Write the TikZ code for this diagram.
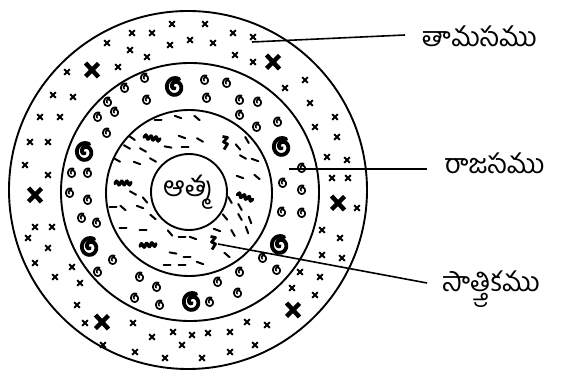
\documentclass[tikz,border=0pt]{standalone}
\usepackage{fontspec}
\newfontfamily\telugu[Script=Telugu]{Hind Guntur}
\usetikzlibrary{positioning}

\begin{document}
\begin{tikzpicture}[x=1pt, y=-1pt,
    ring/.style={draw, line width=1.9pt},
    lead/.style={line width=1.6pt},
    lbl/.style={font=\telugu\fontsize{27}{32}\selectfont, inner sep=0pt},
    smallx/.pic={\draw[line width=2pt] (-2.8,-2.8) -- (2.8,2.8) (-2.8,2.8) -- (2.8,-2.8);},
    bigx/.pic={\draw[line width=4.5pt] (-6.5,-7) -- (6.5,7) (-6.5,6.5) -- (6.5,-6.5);},
    smallg/.pic={\draw[line width=1.7pt] plot[smooth, domain=60:600, samples=30]
        ({4.2*(1-0.9*((\x-60)/540)^2)*cos(\x)}, {-4.6*(1-0.9*((\x-60)/540)^2)*sin(\x)});},
    bigg/.pic={\draw[line width=3.8pt, line cap=round] plot[smooth, domain=60:620, samples=40]
        ({8.5*(1-0.9*((\x-60)/560)^2)*cos(\x)}, {-9*(1-0.9*((\x-60)/560)^2)*sin(\x)});},
    dashmark/.pic={\draw[line width=2pt, line cap=round] (-3.5,0) -- (3.5,0);},
    squiggle/.pic={\draw[line width=3.2pt, line cap=round] plot[smooth, domain=-8:8, samples=33] (\x, {1.8*sin(\x*70)});},
    zmark/.pic={\draw[line width=2.8pt, line join=round] (-2.5,-6.5) -- (2.5,-5.5) -- (-1.5,-1) -- (2.5,1) -- (-1,6.5);}
]
    \useasboundingbox (0,0) rectangle (564,374);

    % Rings
    \draw[ring] (188,190) circle[radius=179];
    \draw[ring] (190,192) circle[radius=129];
    \draw[ring] (189,193) circle[radius=83];
    \node[circle, draw, line width=1.9pt, minimum size=76pt, inner sep=0pt,
          font=\telugu\fontsize{28}{32}\selectfont] (atma) at (189,192) {ఆత్మ};

    % Outer ring: crosses
    \foreach \px/\py in {172/24, 205/24, 233/33, 253/37, 152/33, 132/33, 107/43, 130/50,
        170/45, 190/40, 213/43, 235/55, 253/62, 147/57, 118/67, 67/72, 53/95, 73/97,
        40/117, 60/117, 30/142, 48/142, 25/165, 48/175, 285/88, 305/80, 310/103,
        335/117, 315/127, 337/137, 327/157, 347/160, 332/178, 348/178, 357/208,
        322/230, 340/238, 322/255, 342/258, 300/272, 320/277, 292/288, 315/295,
        35/227, 52/227, 28/238, 48/248, 35/263, 55/277, 72/267, 80/283, 77/305,
        85/323, 133/323, 152/337, 173/332, 192/335, 208/333, 230/332, 247/322,
        267/325, 103/345, 135/352, 165/358, 182/345, 202/358, 230/352, 255/345}
        \pic at (\px,\py) {smallx};
    \foreach \px/\py in {92/70, 273/62, 35/195, 338/203, 102/322, 293/310}
        \pic at (\px,\py) {bigx};

    % Middle ring: curls
    \foreach \px/\py in {145/78, 125/88, 108/102, 98/117, 115/112, 147/100, 205/80,
        227/83, 207/98, 240/100, 258/102, 240/115, 257/127, 278/122, 107/133,
        72/173, 88/173, 70/193, 88/200, 82/218, 97/223, 302/168, 283/183, 302/190,
        282/212, 302/213, 263/258, 277/270, 240/272, 218/282, 238/293, 210/302,
        140/277, 157/287, 135/298, 160/305, 113/260, 98/272}
        \pic at (\px,\py) {smallg};
    \foreach \px/\py in {175/87, 85/152, 282/147, 90/247, 280/245, 192/302}
        \pic at (\px,\py) {bigg};

    % Inner ring: strokes
    \foreach \px/\py/\pa in {158/120/0, 178/117/-20, 197/118/-40, 132/138/-35,
        127/147/-30, 143/150/-30, 182/137/-20, 200/140/-30, 168/147/-10, 185/147/0,
        117/160/-30, 137/163/-20, 153/160/-30, 238/147/-50, 247/140/-60, 243/157/-30,
        255/160/-20, 240/177/-20, 257/177/-40, 133/193/-30, 145/200/-50, 113/207/0,
        123/208/-40, 140/207/-20, 230/200/-60, 240/207/-60, 225/217/-50, 240/217/-60,
        250/220/-70, 123/228/0, 143/230/0, 153/217/-40, 217/230/-20, 233/233/-60,
        247/230/-70, 170/233/-50, 182/237/0, 193/238/-20, 173/253/-10, 187/257/0,
        167/265/0, 182/265/0, 200/263/-20, 227/255/-40}
        \pic[rotate=\pa] at (\px,\py) {dashmark};
    \foreach \px/\py/\pa in {152/138/-10, 123/183/0, 245/197/-20, 148/245/5}
        \pic[rotate=\pa] at (\px,\py) {squiggle};
    \pic at (225,143) {zmark};
    \pic at (213,243) {zmark};

    % Labels
    \coordinate (ptamas) at (252,42);
    \coordinate (prajas) at (289,169);
    \coordinate (psattva) at (218,244);
    \coordinate (etamas) at (405,35);
    \coordinate (erajas) at (427,169);
    \coordinate (esattva) at (427,283);
    \node[lbl, right=17pt of etamas, yshift=-1pt] (tamas) {తామసము};
    \node[lbl, right=17pt of erajas, yshift=6pt] (rajas) {రాజసము};
    \node[lbl, right=15pt of esattva, yshift=-6pt] (sattva) {సాత్త్వికము};
    \draw[lead] (ptamas) -- (etamas);
    \draw[lead] (prajas) -- (erajas);
    \draw[lead] (psattva) -- (esattva);
\end{tikzpicture}
\end{document}
